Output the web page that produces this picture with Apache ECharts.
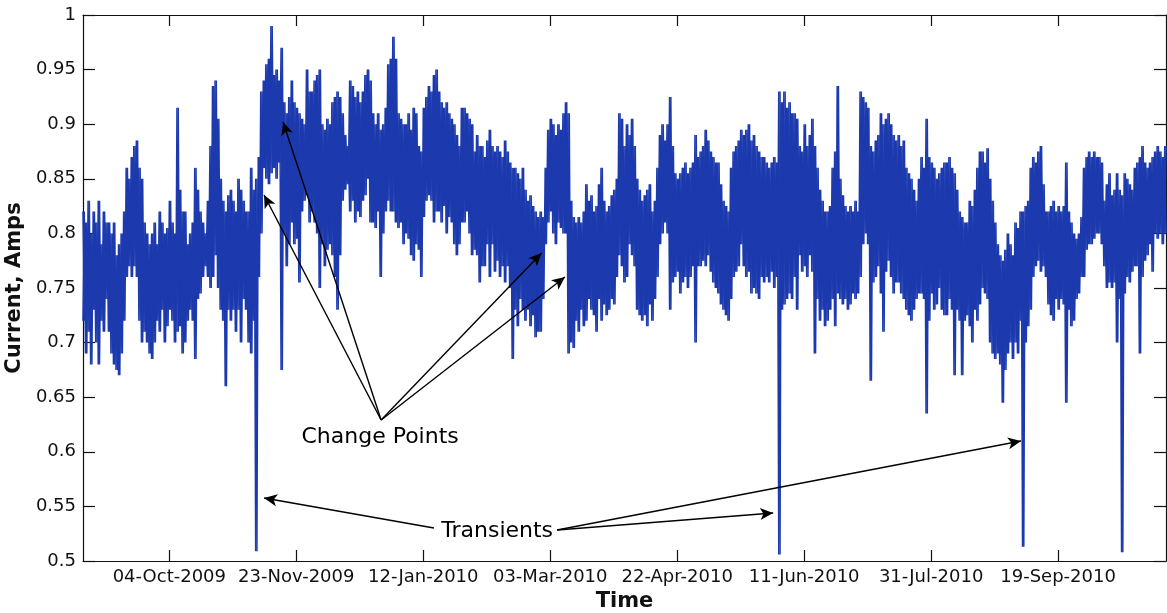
<!DOCTYPE html>
<html>
<head>
<meta charset="utf-8">
<script src="https://cdn.jsdelivr.net/npm/echarts@6/dist/echarts.min.js"></script>
<style>
html,body{margin:0;padding:0;background:#fff;}
#chart{width:1167px;height:613px;}
</style>
</head>
<body>
<div id="chart"></div>
<script>
// x = days since 31-Aug-2009; for each day the upper and lower extent of the current trace
const xTickDays = [34, 84, 134, 184, 234, 284, 334, 384];
const xTickLabels = ['04-Oct-2009','23-Nov-2009','12-Jan-2010','03-Mar-2010','22-Apr-2010','11-Jun-2010','31-Jul-2010','19-Sep-2010'];
const yTickLabels = ['0.5','0.55','0.6','0.65','0.7','0.75','0.8','0.85','0.9','0.95','1'];

const dailyHigh = [
0.82,0.81,0.83,0.80,0.82,0.81,0.83,0.79,0.82,0.81,
0.81,0.80,0.81,0.78,0.79,0.80,0.82,0.86,0.85,0.87,
0.88,0.885,0.86,0.85,0.81,0.80,0.79,0.80,0.81,0.79,
0.82,0.81,0.80,0.805,0.83,0.81,0.80,0.915,0.84,0.82,
0.82,0.79,0.80,0.81,0.86,0.84,0.82,0.81,0.80,0.83,
0.88,0.935,0.94,0.905,0.85,0.83,0.82,0.835,0.84,0.83,
0.82,0.85,0.84,0.83,0.82,0.82,0.86,0.84,0.85,0.87,
0.93,0.94,0.955,0.96,0.99,0.945,0.95,0.94,0.97,0.92,
0.91,0.925,0.94,0.92,0.915,0.91,0.905,0.90,0.95,0.93,
0.93,0.94,0.945,0.95,0.90,0.895,0.905,0.90,0.92,0.925,
0.93,0.925,0.91,0.89,0.88,0.94,0.935,0.925,0.93,0.92,
0.93,0.945,0.95,0.94,0.91,0.90,0.91,0.895,0.90,0.915,
0.955,0.96,0.98,0.96,0.91,0.905,0.90,0.90,0.91,0.895,
0.915,0.91,0.88,0.875,0.915,0.925,0.935,0.93,0.945,0.95,
0.93,0.92,0.915,0.92,0.91,0.905,0.90,0.89,0.88,0.915,
0.915,0.91,0.905,0.90,0.875,0.89,0.88,0.88,0.87,0.885,
0.895,0.88,0.875,0.88,0.875,0.87,0.885,0.875,0.865,0.86,
0.86,0.855,0.85,0.86,0.84,0.83,0.835,0.825,0.82,0.815,
0.82,0.815,0.86,0.895,0.905,0.90,0.89,0.90,0.895,0.91,
0.92,0.91,0.83,0.815,0.81,0.815,0.81,0.82,0.845,0.83,
0.835,0.82,0.825,0.845,0.86,0.83,0.82,0.825,0.835,0.84,
0.85,0.91,0.905,0.88,0.90,0.89,0.905,0.88,0.85,0.84,
0.83,0.835,0.84,0.845,0.82,0.83,0.86,0.89,0.90,0.885,
0.90,0.925,0.88,0.855,0.85,0.855,0.86,0.865,0.855,0.86,
0.865,0.89,0.87,0.875,0.88,0.895,0.885,0.875,0.87,0.865,
0.865,0.845,0.83,0.825,0.82,0.86,0.875,0.88,0.885,0.895,
0.89,0.895,0.90,0.885,0.89,0.88,0.875,0.87,0.87,0.865,
0.86,0.865,0.87,0.865,0.93,0.92,0.93,0.915,0.92,0.91,
0.91,0.905,0.88,0.875,0.90,0.88,0.89,0.905,0.88,0.86,
0.84,0.83,0.82,0.82,0.825,0.86,0.875,0.935,0.85,0.835,
0.825,0.82,0.825,0.82,0.83,0.82,0.93,0.925,0.92,0.915,
0.88,0.875,0.885,0.89,0.91,0.90,0.905,0.91,0.90,0.89,
0.885,0.89,0.88,0.885,0.86,0.855,0.85,0.84,0.83,0.85,
0.87,0.86,0.905,0.87,0.865,0.86,0.85,0.855,0.86,0.865,
0.865,0.87,0.86,0.855,0.84,0.82,0.815,0.81,0.81,0.83,
0.825,0.84,0.86,0.875,0.875,0.865,0.878,0.85,0.83,0.81,
0.79,0.78,0.775,0.785,0.80,0.79,0.78,0.81,0.805,0.82,
0.82,0.825,0.83,0.86,0.87,0.865,0.875,0.88,0.845,0.82,
0.82,0.825,0.83,0.82,0.825,0.82,0.825,0.865,0.82,0.81,
0.80,0.795,0.80,0.815,0.86,0.87,0.875,0.87,0.875,0.87,
0.87,0.865,0.83,0.845,0.855,0.835,0.84,0.855,0.84,0.835,
0.855,0.85,0.845,0.84,0.86,0.865,0.87,0.88,0.865,0.86,
0.865,0.87,0.875,0.88,0.875,0.87,0.88
];

const dailyLow = [
0.72,0.69,0.71,0.68,0.73,0.70,0.68,0.72,0.71,0.74,
0.71,0.69,0.68,0.675,0.67,0.69,0.72,0.76,0.77,0.76,
0.77,0.76,0.72,0.70,0.71,0.70,0.69,0.685,0.70,0.72,
0.71,0.73,0.70,0.715,0.73,0.72,0.70,0.71,0.715,0.69,
0.70,0.72,0.73,0.72,0.685,0.74,0.745,0.76,0.77,0.76,
0.75,0.76,0.78,0.75,0.73,0.72,0.66,0.73,0.72,0.73,
0.71,0.73,0.70,0.74,0.73,0.70,0.69,0.72,0.509,0.76,
0.80,0.86,0.85,0.845,0.855,0.86,0.85,0.865,0.675,0.80,
0.77,0.79,0.81,0.79,0.795,0.755,0.82,0.83,0.835,0.81,
0.82,0.81,0.80,0.75,0.79,0.77,0.785,0.79,0.78,0.76,
0.73,0.78,0.83,0.84,0.845,0.82,0.83,0.81,0.82,0.815,
0.83,0.835,0.85,0.81,0.81,0.805,0.82,0.76,0.80,0.82,
0.83,0.82,0.82,0.81,0.805,0.81,0.79,0.80,0.795,0.78,
0.775,0.79,0.785,0.76,0.815,0.83,0.835,0.83,0.81,0.82,
0.82,0.81,0.825,0.80,0.815,0.81,0.79,0.78,0.79,0.81,
0.81,0.82,0.80,0.78,0.785,0.78,0.755,0.77,0.77,0.79,
0.76,0.79,0.765,0.775,0.76,0.77,0.755,0.77,0.75,0.685,
0.73,0.715,0.74,0.73,0.72,0.73,0.715,0.725,0.705,0.71,
0.71,0.74,0.79,0.81,0.82,0.80,0.79,0.81,0.805,0.80,
0.80,0.69,0.70,0.695,0.72,0.71,0.73,0.715,0.72,0.74,
0.73,0.725,0.71,0.74,0.72,0.735,0.725,0.73,0.74,0.735,
0.76,0.78,0.77,0.755,0.76,0.79,0.78,0.77,0.73,0.725,
0.72,0.725,0.715,0.735,0.72,0.74,0.76,0.79,0.80,0.81,
0.80,0.73,0.755,0.76,0.765,0.745,0.755,0.76,0.75,0.76,
0.77,0.70,0.77,0.77,0.775,0.77,0.78,0.765,0.755,0.75,
0.745,0.735,0.73,0.725,0.72,0.74,0.76,0.765,0.77,0.79,
0.77,0.76,0.765,0.745,0.75,0.745,0.74,0.76,0.755,0.76,
0.755,0.765,0.75,0.76,0.506,0.73,0.735,0.74,0.745,0.74,
0.76,0.73,0.78,0.765,0.77,0.76,0.78,0.765,0.69,0.74,
0.72,0.73,0.715,0.72,0.73,0.74,0.715,0.745,0.74,0.735,
0.74,0.73,0.735,0.745,0.74,0.745,0.76,0.79,0.80,0.79,
0.665,0.755,0.76,0.77,0.745,0.71,0.765,0.775,0.76,0.745,
0.755,0.755,0.745,0.74,0.73,0.725,0.72,0.73,0.74,0.745,
0.745,0.74,0.635,0.72,0.745,0.73,0.735,0.75,0.73,0.725,
0.725,0.74,0.73,0.67,0.73,0.72,0.67,0.72,0.725,0.715,
0.70,0.73,0.72,0.735,0.75,0.745,0.74,0.70,0.69,0.685,
0.69,0.68,0.645,0.675,0.69,0.70,0.685,0.70,0.69,0.72,
0.513,0.70,0.715,0.73,0.76,0.77,0.775,0.765,0.77,0.76,
0.735,0.725,0.72,0.74,0.73,0.74,0.735,0.645,0.73,0.715,
0.72,0.74,0.745,0.76,0.76,0.785,0.79,0.79,0.795,0.80,
0.80,0.79,0.77,0.75,0.755,0.75,0.755,0.70,0.74,0.508,
0.745,0.76,0.755,0.765,0.77,0.77,0.69,0.76,0.775,0.78,
0.79,0.765,0.80,0.795,0.80,0.79,0.80
];

// two interleaved passes through each day's high/low so the trace reads as a dense signal
const traceA = [], traceB = [];
for (let i = 0; i < dailyHigh.length; i++) {
  traceA.push([i, dailyHigh[i]]);
  traceA.push([i + 0.5, dailyLow[i]]);
  traceB.push([i, dailyLow[i]]);
  traceB.push([i + 0.5, dailyHigh[i]]);
}

const FONT = 'DejaVu Sans';
const xMin = 0, xMax = 426.5;
const yFmt = v => yTickLabels[Math.round((v - 0.5) / 0.05)];
const xFmt = v => { const k = xTickDays.indexOf(Math.round(v)); return k >= 0 ? xTickLabels[k] : ''; };
const axisLine = { show: true, onZero: false, lineStyle: { color: '#111', width: 1.2 } };
const traceStyle = { color: '#1c3aae', width: 1.5 };

const arrowStyle = { color: '#000', width: 1.4, type: 'solid' };
function arrow(a, b) { return [{ coord: a }, { coord: b }]; }

const chart = echarts.init(document.getElementById('chart'), null, { renderer: 'canvas' });
chart.setOption({
  animation: false,
  backgroundColor: '#fff',
  grid: { left: 83, right: 1, top: 15, bottom: 52, containLabel: false, outerBoundsMode: 'none' },
  xAxis: [{
    type: 'value', min: xMin, max: xMax, position: 'bottom',
    axisLine: axisLine,
    axisTick: { show: true, inside: true, length: 11, customValues: xTickDays, lineStyle: { color: '#111', width: 1.2 } },
    axisLabel: { show: true, customValues: xTickDays, formatter: xFmt, margin: 7, fontFamily: FONT, fontSize: 18, color: '#111' },
    splitLine: { show: false },
    name: 'Time', nameLocation: 'middle', nameGap: 26,
    nameTextStyle: { fontFamily: FONT, fontSize: 21, fontWeight: 'bold', color: '#111' }
  }, {
    type: 'value', min: xMin, max: xMax, position: 'top',
    axisLine: axisLine,
    axisTick: { show: true, inside: true, length: 11, customValues: xTickDays, lineStyle: { color: '#111', width: 1.2 } },
    axisLabel: { show: false },
    splitLine: { show: false }
  }],
  yAxis: [{
    type: 'value', min: 0.5, max: 1, interval: 0.05, position: 'left',
    axisLine: axisLine,
    axisTick: { show: true, inside: true, length: 12, lineStyle: { color: '#111', width: 1.2 } },
    axisLabel: { show: true, formatter: yFmt, margin: 7, fontFamily: FONT, fontSize: 18, color: '#111' },
    splitLine: { show: false },
    name: 'Current, Amps', nameLocation: 'middle', nameGap: 45, nameRotate: 90,
    nameTextStyle: { fontFamily: FONT, fontSize: 21, fontWeight: 'bold', color: '#111' }
  }, {
    type: 'value', min: 0.5, max: 1, interval: 0.05, position: 'right',
    axisLine: axisLine,
    axisTick: { show: true, inside: true, length: 12, lineStyle: { color: '#111', width: 1.2 } },
    axisLabel: { show: false },
    splitLine: { show: false }
  }],
  series: [{
    type: 'line',
    xAxisIndex: 0, yAxisIndex: 0,
    data: traceA,
    showSymbol: false,
    symbol: 'none',
    sampling: 'none',
    lineStyle: traceStyle,
    z: 2
  }, {
    type: 'line',
    xAxisIndex: 0, yAxisIndex: 0,
    data: traceB,
    showSymbol: false,
    symbol: 'none',
    sampling: 'none',
    lineStyle: traceStyle,
    z: 2,
    markLine: {
      silent: true,
      symbol: ['none', 'arrow'],
      symbolSize: [9, 13],
      label: { show: false },
      lineStyle: arrowStyle,
      z: 5,
      data: [
        arrow([117.4, 0.6291], [71.3, 0.8352]),
        arrow([117.4, 0.6291], [78.8, 0.9020]),
        arrow([117.4, 0.6291], [180.6, 0.7821]),
        arrow([117.4, 0.6291], [189.8, 0.7601]),
        arrow([138.2, 0.5302], [71.3, 0.5577]),
        arrow([186.7, 0.5284], [271.8, 0.5440]),
        arrow([186.7, 0.5284], [369.4, 0.6099])
      ]
    },
    markPoint: {
      silent: true,
      symbol: 'rect',
      symbolSize: 1,
      itemStyle: { color: 'rgba(0,0,0,0)' },
      label: { show: true, position: 'inside', formatter: '{b}', fontFamily: FONT, fontSize: 22, color: '#000' },
      z: 6,
      data: [
        { name: 'Change Points', coord: [117.0, 0.6136] },
        { name: 'Transients', coord: [163.1, 0.5275] }
      ]
    }
  }]
});
</script>
</body>
</html>
